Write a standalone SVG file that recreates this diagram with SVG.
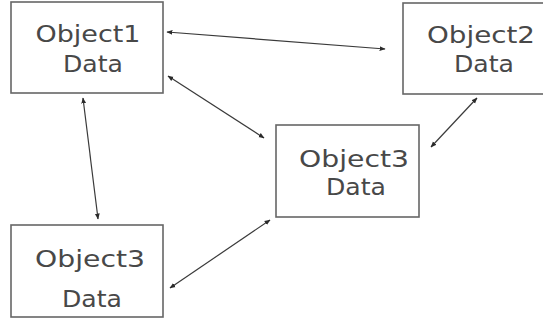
<svg xmlns="http://www.w3.org/2000/svg" width="543" height="320" viewBox="0 0 543 320">
<defs>
<style>
.box{fill:#fff;stroke:#666;stroke-width:1.6}
.t{font-family:"DejaVu Sans","Liberation Sans",sans-serif;font-size:23.5px;fill:#484848;text-anchor:middle}
.c{stroke:#3a3a3a;stroke-width:1.2;fill:none;marker-start:url(#ah);marker-end:url(#ah)}
</style>
<marker id="ah" viewBox="0 0 10 10" refX="9" refY="5" markerWidth="6" markerHeight="6" orient="auto-start-reverse" markerUnits="userSpaceOnUse">
<path d="M0,1 L10,5 L0,9 z" fill="#2a2a2a"/>
</marker>
</defs>
<rect width="543" height="320" fill="#fff"/>
<g id="node-object1">
<rect class="box" x="11" y="2" width="152" height="91"/>
<text class="t" x="88" y="42" textLength="105" lengthAdjust="spacingAndGlyphs">Object1</text>
<text class="t" x="93" y="72" textLength="60" lengthAdjust="spacingAndGlyphs">Data</text>
</g>
<g id="node-object2">
<rect class="box" x="403" y="3" width="152" height="91"/>
<text class="t" x="481" y="43" textLength="108" lengthAdjust="spacingAndGlyphs">Object2</text>
<text class="t" x="484" y="72" textLength="60" lengthAdjust="spacingAndGlyphs">Data</text>
</g>
<g id="node-object3-mid">
<rect class="box" x="276" y="125" width="143" height="92"/>
<text class="t" x="354" y="167" textLength="110" lengthAdjust="spacingAndGlyphs">Object3</text>
<text class="t" x="356" y="195" textLength="60" lengthAdjust="spacingAndGlyphs">Data</text>
</g>
<g id="node-object3-bottom">
<rect class="box" x="11" y="225" width="152" height="92"/>
<text class="t" x="90" y="267" textLength="110" lengthAdjust="spacingAndGlyphs">Object3</text>
<text class="t" x="92" y="307" textLength="60" lengthAdjust="spacingAndGlyphs">Data</text>
</g>
<g id="connectors">
<line class="c" x1="167" y1="32" x2="385" y2="49"/>
<line class="c" x1="168" y1="76" x2="264" y2="138"/>
<line class="c" x1="83" y1="98" x2="98" y2="219"/>
<line class="c" x1="477" y1="98" x2="431" y2="147"/>
<line class="c" x1="270" y1="220" x2="170" y2="288"/>
</g>
</svg>
